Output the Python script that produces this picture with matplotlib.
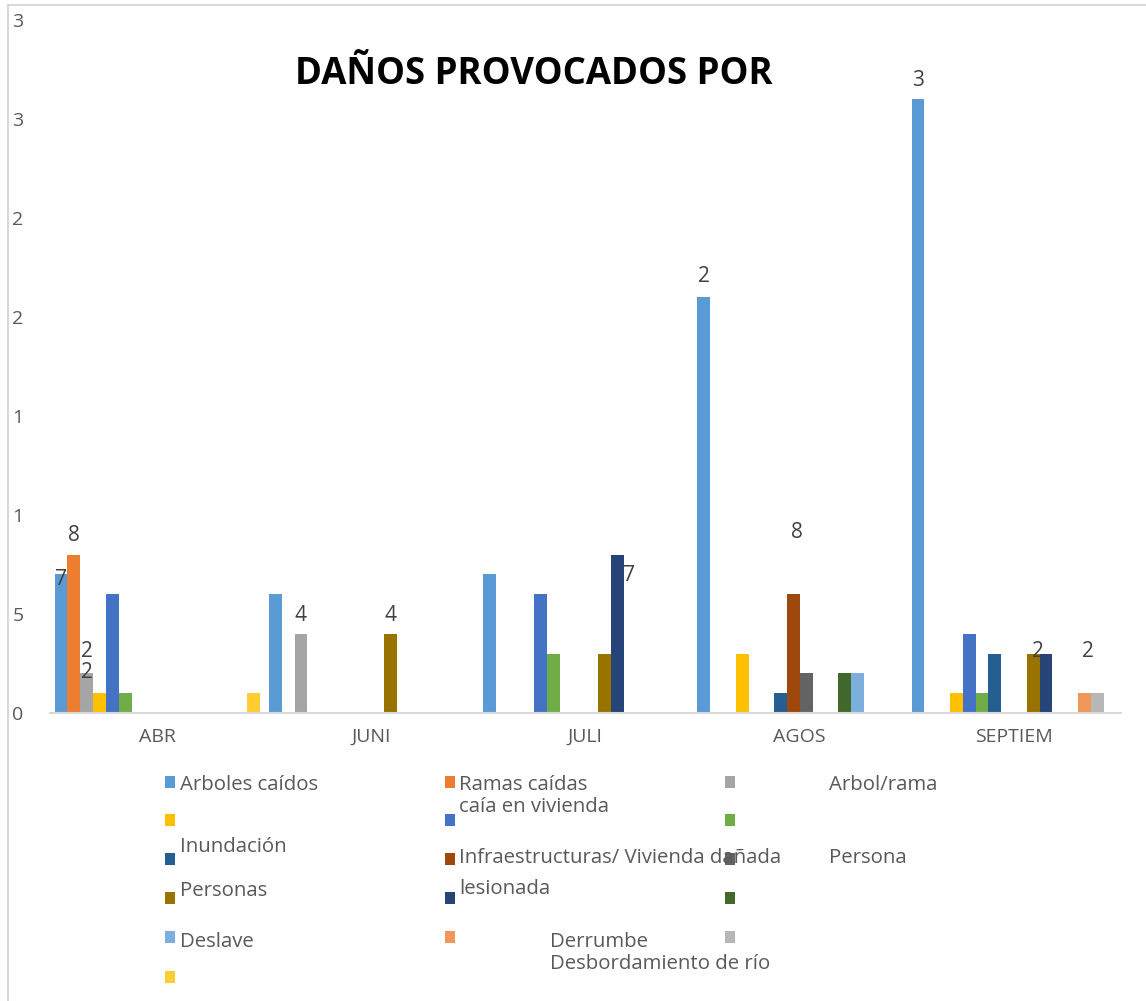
import matplotlib
matplotlib.use("Agg")
import matplotlib.pyplot as plt
from matplotlib.patches import Rectangle
from matplotlib.lines import Line2D
import numpy as np

plt.rcParams['font.family'] = ['Open Sans', 'DejaVu Sans']

# data
months = ["ABR", "JUNI", "JULI", "AGOS", "SEPTIEM"]
series_colors = ["#5B9BD5", "#ED7D31", "#A5A5A5", "#FFC000", "#4472C4", "#70AD47",
                 "#255E91", "#9E480E", "#636363", "#997300", "#264478", "#43682B",
                 "#7CAFDD", "#F1975A", "#B7B7B7", "#FFCD33"]
arboles = [7, 6, 7, 21, 31]
ramas = [8, 0, 0, 0, 0]
arbol_rama = [2, 4, 0, 0, 0]
amarillo = [1, 0, 0, 3, 1]
vivienda = [6, 0, 6, 0, 4]
verde = [1, 0, 3, 0, 1]
inundacion = [0, 0, 0, 1, 3]
infraestructura = [0, 0, 0, 6, 0]
gris_oscuro = [0, 0, 0, 2, 0]
personas = [0, 4, 3, 0, 3]
lesionada = [0, 0, 8, 0, 3]
verde_oscuro = [0, 0, 0, 2, 0]
deslave = [0, 0, 0, 2, 0]
derrumbe = [0, 0, 0, 0, 1]
desbordamiento = [0, 0, 0, 0, 1]
amarillo2 = [1, 0, 0, 0, 0]
series = [arboles, ramas, arbol_rama, amarillo, vivienda, verde, inundacion,
          infraestructura, gris_oscuro, personas, lesionada, verde_oscuro,
          deslave, derrumbe, desbordamiento, amarillo2]

ytick_vals = [0, 5, 10, 15, 20, 25, 30, 35]
ytick_labels = ["0", "5", "1", "1", "2", "2", "3", "3"]

# data labels as shown: (month index, series index, text, dx px, dy px)
data_labels = [(0, 0, "7", 0, -5), (0, 1, "8", 0, 19), (0, 2, "2", 0, 22),
               (0, 2, "2", 0, 1), (1, 2, "4", 0, 18), (1, 9, "4", 0, 18),
               (2, 10, "7", 11, -21), (3, 0, "2", 0, 21), (3, 7, "8", 4, 62),
               (4, 0, "3", 0, 19), (4, 9, "2", 5, 2), (4, 13, "2", 4, 42)]

# legend as it appears: (marker x, marker y, color index)
legend_marks = [(165, 782, 0), (445, 782, 1), (725, 782, 2),
                (165, 820, 3), (445, 820, 4), (725, 820, 5),
                (165, 859, 6), (445, 859, 7), (725, 859, 8),
                (165, 898, 9), (445, 898, 10), (725, 898, 11),
                (165, 937, 12), (445, 937, 13), (725, 937, 14),
                (165, 977, 15)]
legend_texts = [(180, 790, "Arboles caídos"), (459, 790, "Ramas caídas"),
                (829, 790, "Arbol/rama"), (459, 812, "caía en vivienda"),
                (180, 852, "Inundación"), (459, 863, "Infraestructuras/ Vivienda dañada"),
                (829, 863, "Persona"), (180, 896, "Personas"), (459, 894, "lesionada"),
                (180, 947, "Deslave"), (550, 947, "Derrumbe"),
                (550, 969, "Desbordamiento de río")]

W, H = 1146, 1001
fig = plt.figure(figsize=(W / 100, H / 100), dpi=100)
ax = fig.add_axes([50 / W, 1 - 713 / H, (1121 - 50) / W, (713 - 20) / H])

n = len(series)
w = 12.8 / 214.2
x = np.arange(len(months)) + 0.5
for j, vals in enumerate(series):
    ax.bar(x + (j - (n - 1) / 2) * w, vals, width=w, color=series_colors[j], linewidth=0)

for m, s, txt, dx, dy in data_labels:
    ax.annotate(txt, (x[m] + (s - (n - 1) / 2) * w, series[s][m]),
                xytext=(dx, dy), textcoords="offset pixels",
                ha="center", va="center", fontsize=15, color="#404040")

ax.set_xlim(0, len(months))
ax.set_ylim(0, 35)
ax.set_xticks(x)
ax.set_xticklabels(months)
ax.set_yticks(ytick_vals)
ax.set_yticklabels(ytick_labels)
ax.tick_params(axis="x", length=0, pad=11, labelsize=14, labelcolor="#595959")
ax.tick_params(axis="y", length=0, pad=19, labelsize=14, labelcolor="#595959")
for side in ["top", "right", "left"]:
    ax.spines[side].set_visible(False)
ax.spines["bottom"].set_color("#D9D9D9")
ax.spines["bottom"].set_linewidth(1.5)

fig.text(534 / W, 1 - 84 / H, "DAÑOS PROVOCADOS POR", ha="center", va="baseline",
         fontsize=26.3, fontweight="bold", color="black")

for mx, my, ci in legend_marks:
    fig.add_artist(Rectangle((mx / W, 1 - (my + 6) / H), 10 / W, 12 / H,
                             transform=fig.transFigure, color=series_colors[ci], lw=0))
for tx, ty, txt in legend_texts:
    fig.text(tx / W, 1 - ty / H, txt, ha="left", va="baseline", fontsize=14.7, color="#595959")

# chart border
fig.add_artist(Line2D([8 / W, 1], [1 - 5 / H, 1 - 5 / H], transform=fig.transFigure,
                      color="#D9D9D9", lw=1.5))
fig.add_artist(Line2D([8 / W, 8 / W], [0, 1 - 5 / H], transform=fig.transFigure,
                      color="#D9D9D9", lw=1.5))

fig.savefig("out.png", dpi=100, facecolor="white")
